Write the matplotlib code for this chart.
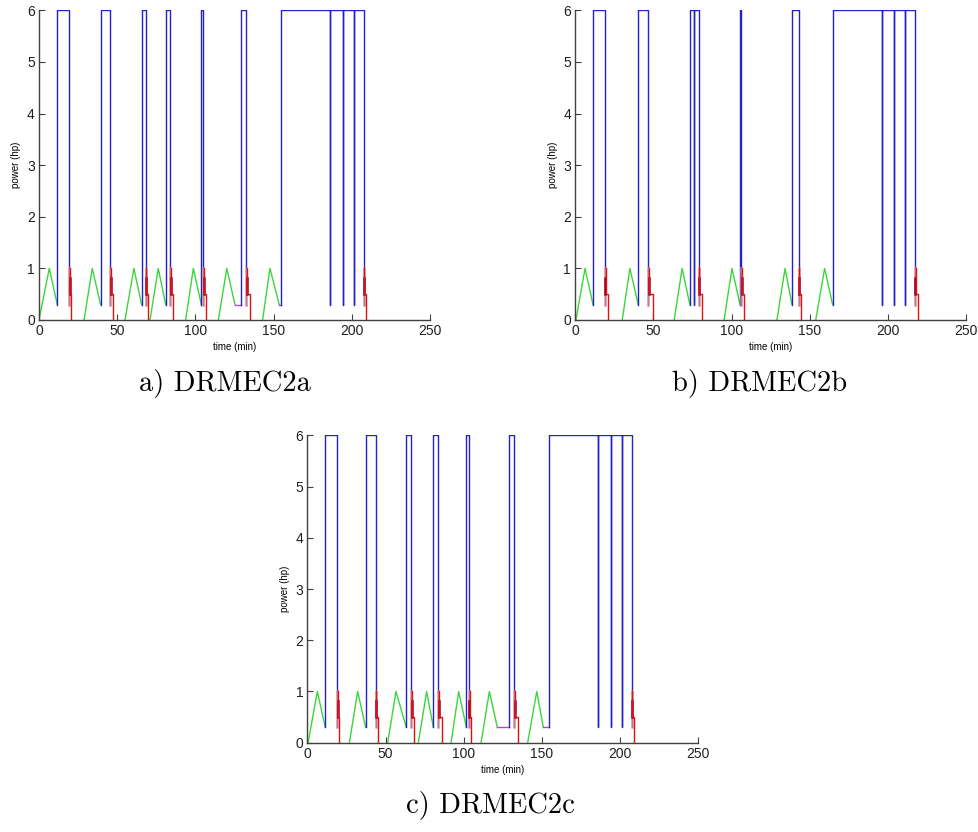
import matplotlib
matplotlib.use("Agg")
import matplotlib.pyplot as plt
import numpy as np

# ---------------- data ----------------
# subplot a) DRMEC2a
a_green_start = [0.0, 28.8, 55.0, 71.0, 93.8, 114.7, 143.0]
a_green_peak = [6.6, 34.1, 60.7, 76.3, 98.7, 120.1, 147.7]
a_green_end = [11.7, 39.4, 65.6, 81.0, 103.8, 125.3, 153.6]
a_blue_rise = [11.7, 39.4, 65.6, 81.0, 103.8, 129.2, 154.7]
a_blue_fall = [19.2, 45.6, 68.2, 83.8, 105.1, 132.6, 207.6]
a_blue_dips = [186.3, 194.6, 201.4]
a_red_zero = [20.8, 47.5, 69.9, 85.9, 106.7, 134.9, 209.1]
a_magenta = [(125.3, 129.2), (153.6, 154.7)]

# subplot b) DRMEC2b
b_green_start = [0.5, 30.1, 63.3, 95.2, 129.0, 153.8]
b_green_peak = [6.3, 35.0, 68.4, 100.3, 134.2, 159.5]
b_green_end = [11.4, 40.3, 73.3, 105.4, 138.6, 164.6]
b_blue_rise = [11.4, 40.3, 73.3, 105.4, 138.6, 164.6]
b_blue_fall = [19.0, 46.7, 78.9, 106.3, 142.9, 217.2]
b_blue_dips = [76.1, 196.3, 203.8, 210.8]
b_red_zero = [20.7, 49.5, 81.4, 108.0, 144.6, 219.5]
b_magenta = []

# subplot c) DRMEC2c
c_green_start = [0.5, 26.9, 51.4, 71.0, 91.9, 111.1, 140.9]
c_green_peak = [6.4, 32.2, 56.7, 76.3, 96.8, 116.4, 146.7]
c_green_end = [11.5, 37.3, 63.3, 80.6, 101.7, 121.5, 150.9]
c_blue_rise = [11.5, 37.3, 63.3, 80.6, 101.7, 129.0, 154.5]
c_blue_fall = [19.0, 43.7, 66.3, 83.6, 103.2, 132.4, 207.4]
c_blue_dips = [186.1, 194.2, 201.2]
c_red_zero = [20.5, 45.4, 68.4, 85.9, 104.7, 134.7, 209.1]
c_magenta = [(121.5, 129.0), (150.9, 154.5)]

green_low = 0.3
green_high = 1.0
blue_low = 0.3
blue_high = 6.0
red_top = 1.0
red_mid = 0.5
red_dark_top = 0.82

x_ticks = [0, 50, 100, 150, 200, 250]
y_ticks = [0, 1, 2, 3, 4, 5, 6]
captions = ["a) DRMEC2a", "b) DRMEC2b", "c) DRMEC2c"]

BLUE = "#2222cc"
GREEN = "#3ad63a"
RED = "#e01010"
DARKRED = "#a0002a"
PINK = "#e89090"
MAGENTA = "#c040d0"
AXC = "#404040"


def draw(ax, gs, gp, ge, br, bf, dips, rz, mag):
    # green ramps
    for s, p, e in zip(gs, gp, ge):
        ax.plot([s, p, e], [0, green_high, green_low], color=GREEN, lw=1.0)
    # magenta waits
    for s, e in mag:
        ax.plot([s, e], [green_low, green_low], color=MAGENTA, lw=1.0)
    # blue blocks
    for r, f in zip(br, bf):
        xs = [r, r]
        ys = [blue_low, blue_high]
        for d in dips:
            if r < d < f:
                xs += [d, d, d]
                ys += [blue_high, blue_low, blue_high]
        xs += [f, f]
        ys += [blue_high, blue_low]
        ax.plot(xs, ys, color=BLUE, lw=1.0)
    # red stops
    for f, z in zip(bf, rz):
        ax.plot([f, f], [blue_low, red_top], color=PINK, lw=1.8, alpha=0.8)
        ax.plot([f + 0.35, f + 0.35], [red_mid, red_dark_top], color=DARKRED, lw=1.8)
        ax.plot([f + 0.5, f + 0.5, z, z], [red_top, red_mid, red_mid, 0],
                color=RED, lw=1.0)
    ax.set_xlim(0, 250)
    ax.set_ylim(0, 6)
    ax.set_xticks(x_ticks)
    ax.set_yticks(y_ticks)
    for sp in ["top", "right"]:
        ax.spines[sp].set_visible(False)
    for sp in ["left", "bottom"]:
        ax.spines[sp].set_color(AXC)
        ax.spines[sp].set_linewidth(1.0)
    ax.tick_params(direction="in", length=4, color=AXC, labelsize=10,
                   pad=3, labelcolor="#202020")
    for lab in ax.get_xticklabels() + ax.get_yticklabels():
        lab.set_fontfamily("Liberation Sans")
    ax.set_xlabel("time (min)", fontsize=7, family="Liberation Sans", labelpad=3)
    ax.set_ylabel("power (hp)", fontsize=7, family="Liberation Sans", labelpad=4)


fig = plt.figure(figsize=(9.79, 8.32), dpi=100)
W = 0.3994
axa = fig.add_axes([0.0398, 0.6154, W, 0.3722])
axb = fig.add_axes([0.5875, 0.6154, W, 0.3722])
axc = fig.add_axes([0.3139, 0.1073, W, 0.3695])

draw(axa, a_green_start, a_green_peak, a_green_end, a_blue_rise, a_blue_fall,
     a_blue_dips, a_red_zero, a_magenta)
draw(axb, b_green_start, b_green_peak, b_green_end, b_blue_rise, b_blue_fall,
     b_blue_dips, b_red_zero, b_magenta)
draw(axc, c_green_start, c_green_peak, c_green_end, c_blue_rise, c_blue_fall,
     c_blue_dips, c_red_zero, c_magenta)

cap_font = dict(fontsize=20.5, family="cmr10", ha="center", va="center")
fig.text(225 / 979, 1 - 383 / 832, captions[0], **cap_font)
fig.text(760 / 979, 1 - 383 / 832, captions[1], **cap_font)
fig.text(490 / 979, 1 - 805 / 832, captions[2], **cap_font)

fig.savefig("out.png", dpi=100)
